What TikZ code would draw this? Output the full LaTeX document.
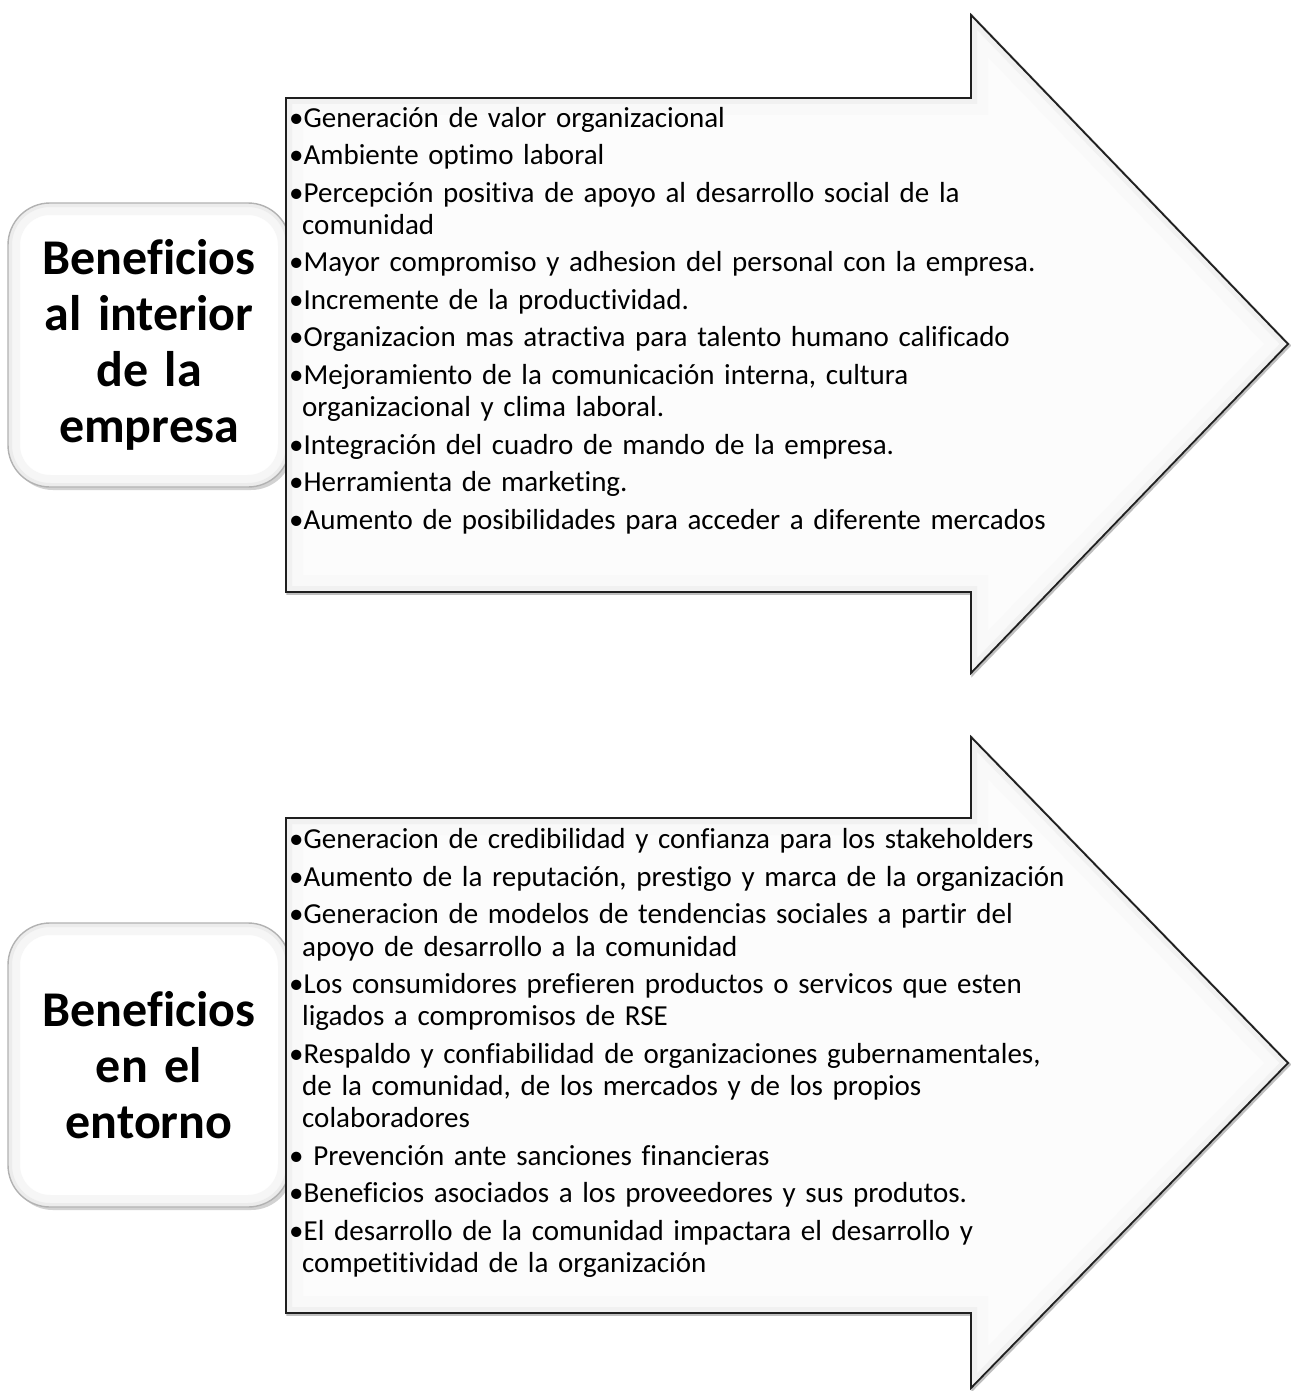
\documentclass[tikz,border=0pt]{standalone}
\usepackage{fontspec}
\setmainfont{Carlito}[Ligatures=NoCommon]
\begin{document}
\begin{tikzpicture}[x=1pt,y=-1pt,
  boxtext/.style={font=\fontsize{50}{56}\selectfont\bfseries, align=center, text width=280pt, inner sep=0pt},
  listtext/.style={font=\fontsize{29}{32.3}\selectfont, text width=820pt, align=left, inner sep=0pt, anchor=north west}]
\useasboundingbox (0,0) rectangle (1290,1391);
\fill[white] (0,0) rectangle (1290,1391);
\newcommand\bitem[1]{\par\hangindent=13pt\hangafter=1\noindent\textbullet#1}
\newcommand\nl{\hfil\break}
% ---------- rounded boxes ----------
\foreach \yt/\yb in {203/487, 923/1207}{
  \fill[gray!35,rounded corners=42pt] (11,\yt+3) rectangle (293,\yb+3);
  \begin{scope}
    \clip[rounded corners=42pt] (8,\yt) rectangle (290,\yb);
    \fill[white] (8,\yt) rectangle (290,\yb);
    \draw[gray!7,line width=24pt,rounded corners=42pt] (8,\yt) rectangle (290,\yb);
    \draw[gray!15,line width=8pt,rounded corners=42pt] (8,\yt) rectangle (290,\yb);
  \end{scope}
  \draw[gray!60,line width=1.4pt,rounded corners=42pt] (8,\yt) rectangle (290,\yb);
}
% ---------- arrows ----------
\def\arrA{(286,98) -- (971,98) -- (971,15) -- (1288,344) -- (971,673) -- (971,592) -- (286,592) -- cycle}
\def\arrB{(286,818) -- (971,818) -- (971,737) -- (1288,1063) -- (971,1388) -- (971,1313) -- (286,1313) -- cycle}
\foreach \p in {\arrA,\arrB}{
  \draw[gray!50,line width=2.5pt,shift={(1.5,1.5)}] \p;
  \begin{scope}
    \clip \p;
    \fill[gray!2] \p;
    \draw[gray!5,line width=34pt,line join=miter] \p;
    \draw[gray!11,line width=12pt,line join=miter] \p;
  \end{scope}
  \draw[black!88,line width=1.8pt,line join=miter] \p;
}
% ---------- box labels ----------
\node[boxtext] (b1) at (149,345) {Beneficios\\al interior\\de la\\empresa};
\node[boxtext] (b2) at (149,1065) {Beneficios\\en el\\entorno};
% ---------- lists ----------
\node[listtext] (l1) at (289,89.5) {\parskip=5.2pt%
\bitem{Generación de valor organizacional}
\bitem{Ambiente optimo laboral}
\bitem{Percepción positiva de apoyo al desarrollo social de la\nl comunidad}
\bitem{Mayor compromiso y adhesion del personal con la empresa.}
\bitem{Incremente de la productividad.}
\bitem{Organizacion mas atractiva para talento humano calificado}
\bitem{Mejoramiento de la comunicación interna, cultura\nl organizacional y clima laboral.}
\bitem{Integración del cuadro de mando de la empresa.}
\bitem{Herramienta de marketing.}
\bitem{Aumento de posibilidades para acceder a diferente mercados}\par};
\node[listtext] (l2) at (289,811) {\parskip=5.2pt%
\bitem{Generacion de credibilidad y confianza para los stakeholders}
\bitem{Aumento de la reputación, prestigo y marca de la organización}
\bitem{Generacion de modelos de tendencias sociales a partir del\nl apoyo de desarrollo a la comunidad}
\bitem{Los consumidores prefieren productos o servicos que esten\nl ligados a compromisos de RSE}
\bitem{Respaldo y confiabilidad de organizaciones gubernamentales,\nl de la comunidad, de los mercados y de los propios\nl colaboradores}
\bitem{ Prevención ante sanciones financieras}
\bitem{Beneficios asociados a los proveedores y sus produtos.}
\bitem{El desarrollo de la comunidad impactara el desarrollo y\nl competitividad de la organización}\par};
\end{tikzpicture}
\end{document}
